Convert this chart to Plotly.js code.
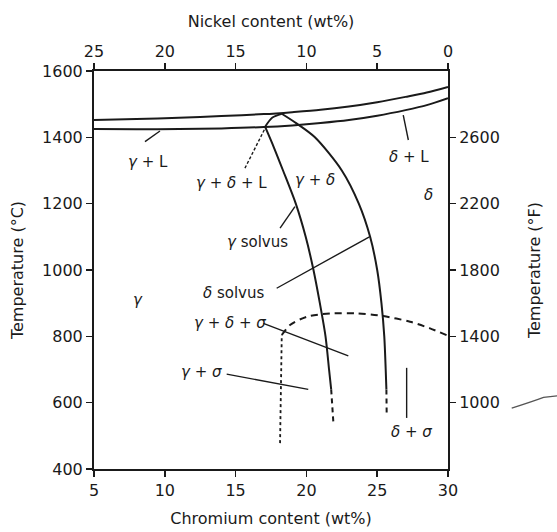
<!DOCTYPE html>
<html>
<head>
<meta charset="utf-8">
<script src="https://cdn.plot.ly/plotly-3.0.1.min.js"></script>
<style>html,body{margin:0;padding:0;background:#fff;}#chart{width:557px;height:532px;}</style>
</head>
<body>
<div id="chart"></div>
<script>
// ---- data (Cr wt%, temperature °C) ----
const liquidusCr   = [5, 8, 11, 14, 17, 19, 21, 23, 25, 27, 28.5, 30];
const liquidusT    = [1452, 1455, 1459, 1464, 1470, 1476, 1483, 1493, 1506, 1522, 1535, 1552];
const solidusCr    = [5, 8, 11, 14, 17, 19, 21, 23, 25, 27, 28.5, 30];
const solidusT     = [1425, 1424, 1425, 1427, 1431, 1436, 1443, 1452, 1465, 1482, 1497, 1518];
const triEdgeCr    = [18.26, 17.6, 17.08];
const triEdgeT     = [1471, 1460, 1432];
const gammaSolvusCr = [17.08, 17.7, 18.35, 19.25, 19.95, 20.5, 20.95, 21.35, 21.6, 21.75];
const gammaSolvusT  = [1432, 1370, 1300, 1200, 1100, 1000, 900, 800, 700, 640];
const gammaSolvusDashCr = [21.75, 21.9];
const gammaSolvusDashT  = [640, 543];
const deltaSolvusCr = [18.26, 19.3, 20.6, 22.5, 23.7, 24.5, 25.0, 25.3, 25.5, 25.6, 25.65];
const deltaSolvusT  = [1471, 1442, 1400, 1300, 1200, 1100, 1000, 900, 800, 700, 640];
const deltaSolvusDashCr = [25.65, 25.67];
const deltaSolvusDashT  = [640, 563];
const sigmaCr = [18.26, 18.84, 20.02, 21.67, 23.55, 25.43, 27.32, 28.73, 30];
const sigmaT  = [804, 834, 859, 869, 869, 861, 844, 824, 802];
const sigmaVertCr = [18.14, 18.26];
const sigmaVertT  = [478, 804];

// ---- axes ----
const crTicks = [5, 10, 15, 20, 25, 30];
const niTicks = [25, 20, 15, 10, 5, 0];
const tempCTicks = [400, 600, 800, 1000, 1200, 1400, 1600];
const tempFTicks = [1000, 1400, 1800, 2200, 2600];
const tempFRange = [600, 3000];

// ---- phase labels: text, Cr, T ----
const labelText = ['<i>γ</i>\u00a0+\u00a0L', '<i>γ</i>\u00a0+\u00a0<i>δ</i>\u00a0+\u00a0L', '<i>γ</i>\u00a0+\u00a0<i>δ</i>', '<i>δ</i>\u00a0+\u00a0L', '<i>δ</i>',
  '<i>γ</i> solvus', '<i>δ</i> solvus', '<i>γ</i>\u00a0+\u00a0<i>δ</i>\u00a0+\u00a0<i>σ</i>', '<i>γ</i>\u00a0+\u00a0<i>σ</i>', '<i>γ</i>', '<i>δ</i>\u00a0+\u00a0<i>σ</i>'];
const labelCr = [8.84, 14.72, 20.61, 27.25, 28.61, 16.58, 14.84, 14.6, 12.6, 8.13, 27.41];
const labelT  = [1327, 1261, 1271, 1342, 1226, 1085, 930, 839, 693, 910, 513];

// ---- leader lines: from (Cr0,T0) to (Cr1,T1) ----
const leadCr0 = [8.60, 15.66, 26.84, 18.14, 17.90, 16.96, 14.37, 27.08];
const leadT0  = [1387, 1307, 1467, 1126, 945, 839, 686, 705];
const leadCr1 = [9.66, 17.08, 27.2, 19.19, 24.45, 22.96, 20.13, 27.08];
const leadT1  = [1419, 1427, 1392, 1191, 1100, 741, 640, 554];
const leadDash = ['solid', '3px,2px', 'solid', 'solid', 'solid', 'solid', 'solid', 'solid'];

const ink = '#1a1a1a';
const font = 'DejaVu Sans, Arial, sans-serif';

function line(x, y, dash, w) {
  return {x: x, y: y, type: 'scatter', mode: 'lines', hoverinfo: 'skip', showlegend: false,
          line: {color: ink, width: w || 2, dash: dash || 'solid', shape: 'spline', smoothing: 0.8}};
}

const traces = [
  line(liquidusCr, liquidusT),
  line(solidusCr, solidusT),
  line(triEdgeCr, triEdgeT, 'solid', 1.8),
  line(gammaSolvusCr, gammaSolvusT),
  line(gammaSolvusDashCr, gammaSolvusDashT, '5px,4px'),
  line(deltaSolvusCr, deltaSolvusT),
  line(deltaSolvusDashCr, deltaSolvusDashT, '5px,4px'),
  line(sigmaCr, sigmaT, '7px,5px'),
  line(sigmaVertCr, sigmaVertT, '3px,3px', 1.8),
  // empty traces so that the secondary (Ni wt% top, °F right) axes are drawn
  {x: [], y: [], xaxis: 'x2', yaxis: 'y', type: 'scatter', mode: 'lines', hoverinfo: 'skip', showlegend: false},
  {x: [], y: [], xaxis: 'x', yaxis: 'y2', type: 'scatter', mode: 'lines', hoverinfo: 'skip', showlegend: false}
];

const annotations = labelText.map((t, i) => ({
  x: labelCr[i], y: labelT[i], xref: 'x', yref: 'y', text: t, showarrow: false,
  font: {family: font, size: 15, color: ink}
}));

const shapes = leadCr0.map((c, i) => ({
  type: 'line', xref: 'x', yref: 'y', x0: c, y0: leadT0[i], x1: leadCr1[i], y1: leadT1[i],
  line: {color: ink, width: 1.4, dash: leadDash[i]}
}));
// small scan mark at the right margin
shapes.push({type: 'path', xref: 'paper', yref: 'paper', path: 'M 1.18 0.153 Q 1.24 0.17 1.27 0.18 L 1.31 0.184',
  line: {color: '#555', width: 1.2}});

const axisCommon = {
  showline: true, linewidth: 2, linecolor: ink, showgrid: false, zeroline: false,
  ticks: 'outside', ticklen: 6, tickwidth: 1.5, tickcolor: ink,
  tickfont: {family: font, size: 16, color: ink}
};

const layout = {
  width: 557, height: 532,
  margin: {l: 94, r: 109, t: 71, b: 63},
  paper_bgcolor: '#fff', plot_bgcolor: '#fff',
  font: {family: font, color: ink},
  xaxis: Object.assign({}, axisCommon, {
    range: [5, 30], tickvals: crTicks, ticktext: crTicks.map(String),
    title: {text: 'Chromium content (wt%)', font: {family: font, size: 16, color: ink}, standoff: 14}
  }),
  xaxis2: Object.assign({}, axisCommon, {
    range: [25, 0], tickvals: niTicks, ticktext: niTicks.map(String), overlaying: 'x', side: 'top', anchor: 'y',
    title: {text: 'Nickel content (wt%)', font: {family: font, size: 16, color: ink}, standoff: 10}
  }),
  yaxis: Object.assign({}, axisCommon, {
    range: [400, 1600], tickvals: tempCTicks, ticktext: tempCTicks.map(String),
    title: {text: 'Temperature (°C)', font: {family: font, size: 16, color: ink}, standoff: 14}
  }),
  yaxis2: Object.assign({}, axisCommon, {
    range: tempFRange, tickvals: tempFTicks, ticktext: tempFTicks.map(String), overlaying: 'y', side: 'right', anchor: 'x',
    title: {text: 'Temperature (°F)', font: {family: font, size: 16, color: ink}, standoff: 30}
  }),
  annotations: annotations,
  shapes: shapes
};

Plotly.newPlot('chart', traces, layout, {staticPlot: true, displayModeBar: false});
</script>
</body>
</html>
